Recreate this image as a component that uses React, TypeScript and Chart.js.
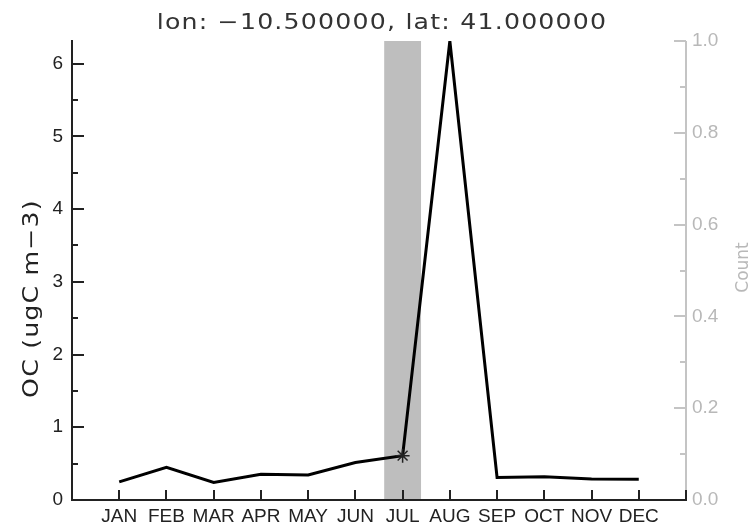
import React, { useEffect, useRef } from 'react';
import { Chart, registerables } from 'chart.js';

Chart.register(...registerables);

const MONTHS = ['JAN', 'FEB', 'MAR', 'APR', 'MAY', 'JUN', 'JUL', 'AUG', 'SEP', 'OCT', 'NOV', 'DEC'];
const OC = [0.25, 0.45, 0.24, 0.355, 0.345, 0.515, 0.61, 6.31, 0.31, 0.32, 0.29, 0.285];
const COUNT = [0, 0, 0, 0, 0, 0, 1, 0, 0, 0, 0, 0];
const TITLE = 'lon: \u221210.500000, lat: 41.000000';
const Y_TITLE = 'OC (ugC m\u22123)';
const Y2_TITLE = 'Count';

const DARK = '#222222';
const LIGHT = '#c4c4c4';
const LIGHT_TEXT = '#b8b8b8';
const TICK_FONT = { family: 'Liberation Sans', size: 19 };

const axesPlugin = {
  id: 'idlAxes',
  afterDraw(chart: any) {
    const { ctx, chartArea: a, scales } = chart;
    const xs = scales.x, ys = scales.y, y2s = scales.y2;
    const seg = (x1: number, y1: number, x2: number, y2: number) => {
      ctx.beginPath();
      ctx.moveTo(x1, y1);
      ctx.lineTo(x2, y2);
      ctx.stroke();
    };
    ctx.save();
    ctx.lineWidth = 2;
    ctx.lineCap = 'butt';

    // right axis (Count)
    ctx.strokeStyle = LIGHT;
    seg(a.right, a.top, a.right, a.bottom);
    const rt = y2s.ticks.map((t: any) => t.value);
    rt.forEach((v: number, i: number) => {
      const p = Math.round(y2s.getPixelForValue(v));
      seg(a.right, p, a.right - 12, p);
      if (i < rt.length - 1) {
        const m = Math.round(y2s.getPixelForValue((v + rt[i + 1]) / 2));
        seg(a.right, m, a.right - 6, m);
      }
    });

    // left axis
    ctx.strokeStyle = DARK;
    seg(a.left, a.top - 1, a.left, a.bottom + 1);
    const lt = ys.ticks.map((t: any) => t.value);
    lt.forEach((v: number, i: number) => {
      const p = Math.round(ys.getPixelForValue(v));
      seg(a.left, p, a.left + 12, p);
      const next = i < lt.length - 1 ? lt[i + 1] : v + (lt[1] - lt[0]);
      const mv = (v + next) / 2;
      if (mv <= ys.max) {
        const m = Math.round(ys.getPixelForValue(mv));
        seg(a.left, m, a.left + 6, m);
      }
    });

    // bottom axis
    seg(a.left - 1, a.bottom, a.right + 1, a.bottom);
    xs.ticks.forEach((t: any) => {
      const p = Math.round(xs.getPixelForValue(t.value));
      seg(p, a.bottom, p, a.bottom - 10);
    });
    ctx.restore();
  },
};

const titlesPlugin = {
  id: 'idlTitles',
  afterDraw(chart: any) {
    const { ctx, chartArea: a } = chart;
    ctx.save();
    (ctx as any).letterSpacing = '1px';
    ctx.font = '21px "DejaVu Sans"';
    ctx.fillStyle = '#333333';
    ctx.textAlign = 'center';
    ctx.textBaseline = 'alphabetic';

    // main title, drawn slightly widened like the IDL vector font
    ctx.save();
    ctx.translate((a.left + a.right) / 2 + 3, a.top - 12);
    ctx.scale(1.2, 1);
    ctx.fillText(TITLE, 0, 0);
    ctx.restore();

    // left y title
    ctx.save();
    ctx.translate(38, (a.top + a.bottom) / 2 + 28);
    ctx.rotate(-Math.PI / 2);
    ctx.scale(1.2, 1);
    ctx.fillStyle = DARK;
    ctx.fillText(Y_TITLE, 0, 0);
    ctx.restore();

    // right y title
    ctx.save();
    ctx.translate(748, (a.top + a.bottom) / 2 - 3);
    ctx.rotate(-Math.PI / 2);
    (ctx as any).letterSpacing = '0px';
    ctx.font = '17px "DejaVu Sans"';
    ctx.fillStyle = LIGHT_TEXT;
    ctx.fillText(Y2_TITLE, 0, 0);
    ctx.restore();
    ctx.restore();
  },
};

export default function App() {
  const ref = useRef<HTMLCanvasElement | null>(null);

  useEffect(() => {
    if (!ref.current) return;
    const lineData = OC.map((v, i) => ({ x: i + 1, y: v }));
    const barData = COUNT.map((v, i) => ({ x: i + 1, y: v }));
    const chart = new Chart(ref.current, {
      type: 'line',
      data: {
        datasets: [
          {
            type: 'line',
            data: lineData,
            yAxisID: 'y',
            xAxisID: 'x',
            borderColor: '#000000',
            borderWidth: 3,
            tension: 0,
            pointStyle: 'star',
            pointRadius: (c: any) => (COUNT[c.dataIndex] > 0 ? 7 : 0),
            pointBorderColor: '#222222',
            pointBorderWidth: 1.5,
            pointBackgroundColor: '#222222',
            order: 0,
          },
          {
            type: 'bar',
            data: barData,
            yAxisID: 'y2',
            xAxisID: 'x',
            backgroundColor: '#bebebe',
            borderWidth: 0,
            barPercentage: 0.78,
            categoryPercentage: 1,
            order: 1,
          },
        ] as any,
      },
      options: {
        animation: false,
        responsive: true,
        maintainAspectRatio: false,
        layout: { padding: { top: 41, left: 0, right: 0, bottom: 0 } },
        plugins: { legend: { display: false }, tooltip: { enabled: false }, title: { display: false } },
        scales: {
          x: {
            type: 'linear',
            position: 'bottom',
            min: 0,
            max: 13,
            offset: false,
            grid: { display: false, drawTicks: false },
            border: { display: false },
            ticks: {
              stepSize: 1,
              autoSkip: false,
              maxRotation: 0,
              minRotation: 0,
              padding: 5,
              color: DARK,
              font: TICK_FONT,
              callback: (v: any) => MONTHS[Number(v) - 1] ?? '',
            },
            afterFit: (s: any) => {
              s.height = 27;
            },
          },
          y: {
            type: 'linear',
            position: 'left',
            min: 0,
            max: Math.max(...OC),
            grid: { display: false, drawTicks: false },
            border: { display: false },
            ticks: {
              stepSize: 1,
              includeBounds: false,
              padding: 9,
              color: DARK,
              font: TICK_FONT,
              callback: (v: any) => String(v),
            },
            afterFit: (s: any) => {
              s.width = 72;
            },
          },
          y2: {
            type: 'linear',
            position: 'right',
            min: 0,
            max: 1,
            grid: { display: false, drawTicks: false },
            border: { display: false },
            ticks: {
              stepSize: 0.2,
              padding: 6,
              color: LIGHT_TEXT,
              font: TICK_FONT,
              callback: (v: any) => Number(v).toFixed(1),
            },
            afterFit: (s: any) => {
              s.width = 65;
            },
          },
        },
      } as any,
      plugins: [axesPlugin, titlesPlugin],
    });
    return () => chart.destroy();
  }, []);

  return (
    <div style={{ position: 'absolute', left: 0, top: 0, width: 751, height: 527, background: '#ffffff' }}>
      <canvas ref={ref} />
    </div>
  );
}
